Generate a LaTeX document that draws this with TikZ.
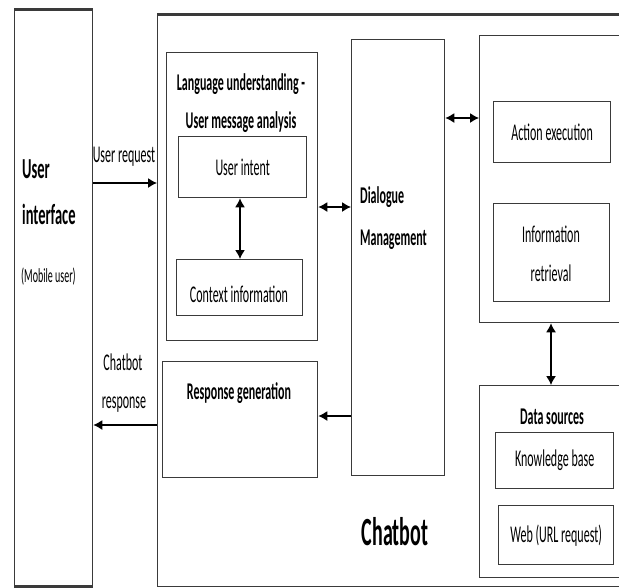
\documentclass[tikz,border=0pt]{standalone}
\usepackage{fontspec}
\setmainfont{Carlito}[FakeStretch=0.5]
\usetikzlibrary{arrows.meta}
\definecolor{lc}{HTML}{3A3A3A}
\tikzset{
  box/.style={draw=lc, line width=1.3pt, rectangle, anchor=north west, inner sep=0pt},
  arr/.style={draw=black, line width=1.3pt, -{Latex[length=9pt,width=10pt]}},
  darr/.style={draw=black, line width=1.3pt, {Latex[length=9pt,width=10pt]}-{Latex[length=9pt,width=10pt]}},
  txt/.style={inner sep=0pt, align=center, font=\fontsize{24}{40}\selectfont},
  btxt/.style={inner sep=0pt, align=center, font=\fontsize{24}{38}\selectfont\bfseries},
}
\begin{document}
\begin{tikzpicture}[x=1pt,y=-1pt]
\useasboundingbox[fill=white] (0,0) rectangle (619,587);
% boxes
\node[box, minimum width=78pt, minimum height=576pt] (ui) at (14,9) {};
\node[box, minimum width=483pt, minimum height=572pt] (chat) at (157,14) {};
\node[box, minimum width=151pt, minimum height=288pt] (lu) at (166,52) {};
\node[box, minimum width=128pt, minimum height=61pt] (intent) at (178,136) {};
\node[box, minimum width=126pt, minimum height=56pt] (context) at (176,259) {};
\node[box, minimum width=155pt, minimum height=116pt] (resp) at (162,361) {};
\node[box, minimum width=93pt, minimum height=436pt] (dm) at (351,39) {};
\node[box, minimum width=161pt, minimum height=287pt] (rbox) at (479,35) {};
\node[box, minimum width=117pt, minimum height=61pt] (action) at (493,101) {};
\node[box, minimum width=116pt, minimum height=98pt] (inforet) at (493,203) {};
\node[box, minimum width=161pt, minimum height=192pt] (data) at (479,385) {};
\node[box, minimum width=118pt, minimum height=56pt] (kb) at (495,432) {};
\node[box, minimum width=115pt, minimum height=59pt] (web) at (498,505) {};
% thick top/bottom edges
\draw[lc, line width=3pt] (ui.north west) -- (ui.north east);
\draw[lc, line width=3pt] (ui.south west) -- (ui.south east);
\draw[lc, line width=3pt] (chat.north west) -- (chat.north east);
% texts
\node[inner sep=0pt, anchor=base west, font=\fontsize{29}{30}\selectfont\bfseries] (tuser) at (22,178) {User};
\node[inner sep=0pt, anchor=base west, font=\fontsize{29}{30}\selectfont\bfseries] (tinterface) at (22,224) {interface};
\node[inner sep=0pt, anchor=base west, font=\fontsize{20}{24}\selectfont] (tmobile) at (21,282) {(Mobile user)};
\node[txt, anchor=base] (treq) at (124,162) {User request};
\node[txt, anchor=base] (tresp1) at (123,370) {Chatbot};
\node[txt, anchor=base] (tresp2) at (124,408) {response};
\node[btxt, anchor=base] (tlu1) at (241,90) {Language understanding -};
\node[btxt, anchor=base] (tlu2) at (241,128) {User message analysis};
\node[txt] (tintent) at (intent.center) {User intent};
\node[txt] (tcontext) at (239,294) {Context information};
\node[btxt] (tresp) at (239,393) {Response generation};
\node[btxt, anchor=base west] (tdm1) at (360,203) {Dialogue};
\node[btxt, anchor=base west] (tdm2) at (360,245) {Management};
\node[txt] (taction) at (action.center) {Action execution};
\node[txt] (tinfo1) at (551,234) {Information};
\node[txt] (tinfo2) at (551,273) {retrieval};
\node[btxt] (tdata) at (552,417) {Data sources};
\node[txt] (tkb) at (kb.center) {Knowledge base};
\node[txt] (tweb) at (web.center) {Web (URL request)};
\node[inner sep=0pt, font=\fontsize{40}{44}\selectfont\bfseries] (tchat) at (395,532) {Chatbot};
% connectors
\draw[arr] (ui.east |- 0,183) -- (chat.west |- 0,183);
\draw[arr] (chat.west |- 0,425) -- (ui.east |- 0,425);
\draw[darr] (intent.south -| 240,0) -- (context.north -| 240,0);
\draw[darr] (lu.east |- 0,207) -- (dm.west |- 0,207);
\draw[arr] (dm.west |- 0,416) -- (resp.east |- 0,416);
\draw[darr] (dm.east |- 0,118) -- (rbox.west |- 0,118);
\draw[darr] (rbox.south -| 551,0) -- (data.north -| 551,0);
\end{tikzpicture}
\end{document}
